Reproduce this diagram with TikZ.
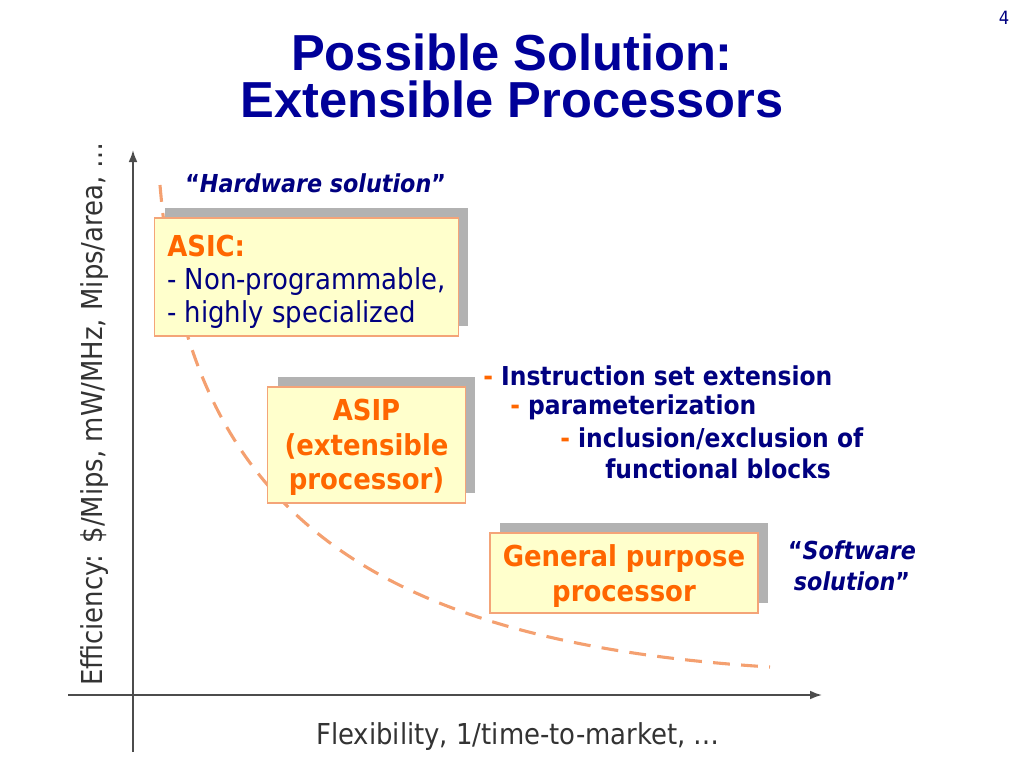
\documentclass[tikz,border=0pt]{standalone}
\usepackage{fontspec}
\setmainfont{DejaVu Sans Condensed}
\newfontfamily\titlefont{Liberation Sans}
\usetikzlibrary{arrows.meta,positioning,shadows}
\definecolor{titleblue}{RGB}{0,0,153}
\definecolor{navy}{RGB}{0,0,128}
\definecolor{accent}{RGB}{255,102,0}
\definecolor{boxfill}{RGB}{255,255,204}
\definecolor{boxedge}{RGB}{244,164,120}
\definecolor{shadowgray}{RGB}{178,178,178}
\definecolor{curveorange}{RGB}{244,160,112}
\tikzset{
  solbox/.style={draw=boxedge,line width=0.8pt,fill=boxfill,inner sep=0pt,
    drop shadow={shadow xshift=0.25cm,shadow yshift=0.25cm,fill=shadowgray,opacity=1}},
  boxtext/.style={text=accent,font=\bfseries\fontsize{20.5}{24.8}\selectfont,align=center},
  feature/.style={anchor=base west,text=navy,font=\bfseries\fontsize{18.5}{22}\selectfont,inner sep=0pt},
  quote/.style={text=navy,font=\bfseries\fontsize{17.6}{22}\selectfont,inner sep=0pt},
  titletext/.style={anchor=base,inner sep=0pt,text=titleblue,font=\titlefont\bfseries\fontsize{36}{40}\selectfont},
  axislabel/.style={text=black!80,font=\fontsize{20.5}{24}\selectfont,inner sep=0pt},
  axisline/.style={-{Latex[length=3mm,width=2.2mm]},line width=1.2pt,draw=black!70},
  tradeoff/.style={draw=curveorange,line width=2.2pt,dash pattern=on 12pt off 8pt}
}
\begin{document}
\begin{tikzpicture}[x=0.025cm,y=-0.025cm]
  \useasboundingbox (0,0) rectangle (1024,768);
  % title and page number
  \node[titletext,text depth=0pt] (title1) at (512,71) {Possible Solution:};
  \node[titletext] (title2) at (512,118) {Extensible Processors};
  \node[text=navy,font=\fontsize{13}{15}\selectfont] (pagenum) at (1004,18) {4};
  % axes
  \coordinate (ybot) at (133,752);
  \coordinate (ytop) at (133,150);
  \coordinate (xleft) at (68,695);
  \coordinate (xright) at (822,695);
  \draw[axisline] (ybot) -- (ytop);
  \draw[axisline] (xleft) -- (xright);
  \node[axislabel,rotate=90] (ylab) at (95,414) {Efficiency: \$/Mips, mW/MHz, Mips/area, …};
  \node[axislabel] (xlab) at (518,737) {Flexibility, 1/time-to-market, …};
  % trade-off curve
  \coordinate (cstart) at (160,185);
  \coordinate (cend) at (770,667);
  \draw[tradeoff] (cstart) .. controls (185,480) and (330,640) .. (cend);
  % the three solutions
  \node[solbox,minimum width=7.58cm,minimum height=2.95cm] (asic) at (306.5,277) {};
  \node[anchor=base west,align=left,inner sep=0pt,font=\fontsize{20.5}{23.4}\selectfont,text=navy] (asictext) at (167,322)
    {\textcolor{accent}{\bfseries ASIC:}\\- Non-programmable,\\- highly specialized};
  \node[solbox,minimum width=4.93cm,minimum height=2.9cm] (asip) at (366.5,445) {};
  \node[boxtext] (asiptext) at ([yshift=-0.06cm]asip.center) {ASIP\\(extensible\\processor)};
  \node[solbox,minimum width=6.7cm,minimum height=2cm] (gpp) at (624,573) {};
  \node[boxtext] (gpptext) at ([yshift=-0.08cm]gpp.center) {General purpose\\processor};
  % quotes
  \node[quote,anchor=base west] (hw) at (185,192) {“\textit{Hardware solution}"};
  \node[quote,align=center] (sw) at (852,566) {“\textit{Software}\\\textit{solution}"};
  % extension features
  \node[feature] (f1) at (483,385) {\textcolor{accent}{-} Instruction set extension};
  \node[feature] (f2) at (510,414) {\textcolor{accent}{-} parameterization};
  \node[feature] (f3) at (560,447) {\textcolor{accent}{-} inclusion/exclusion of};
  \node[feature] (f4) at (605,478) {functional blocks};
\end{tikzpicture}
\end{document}
